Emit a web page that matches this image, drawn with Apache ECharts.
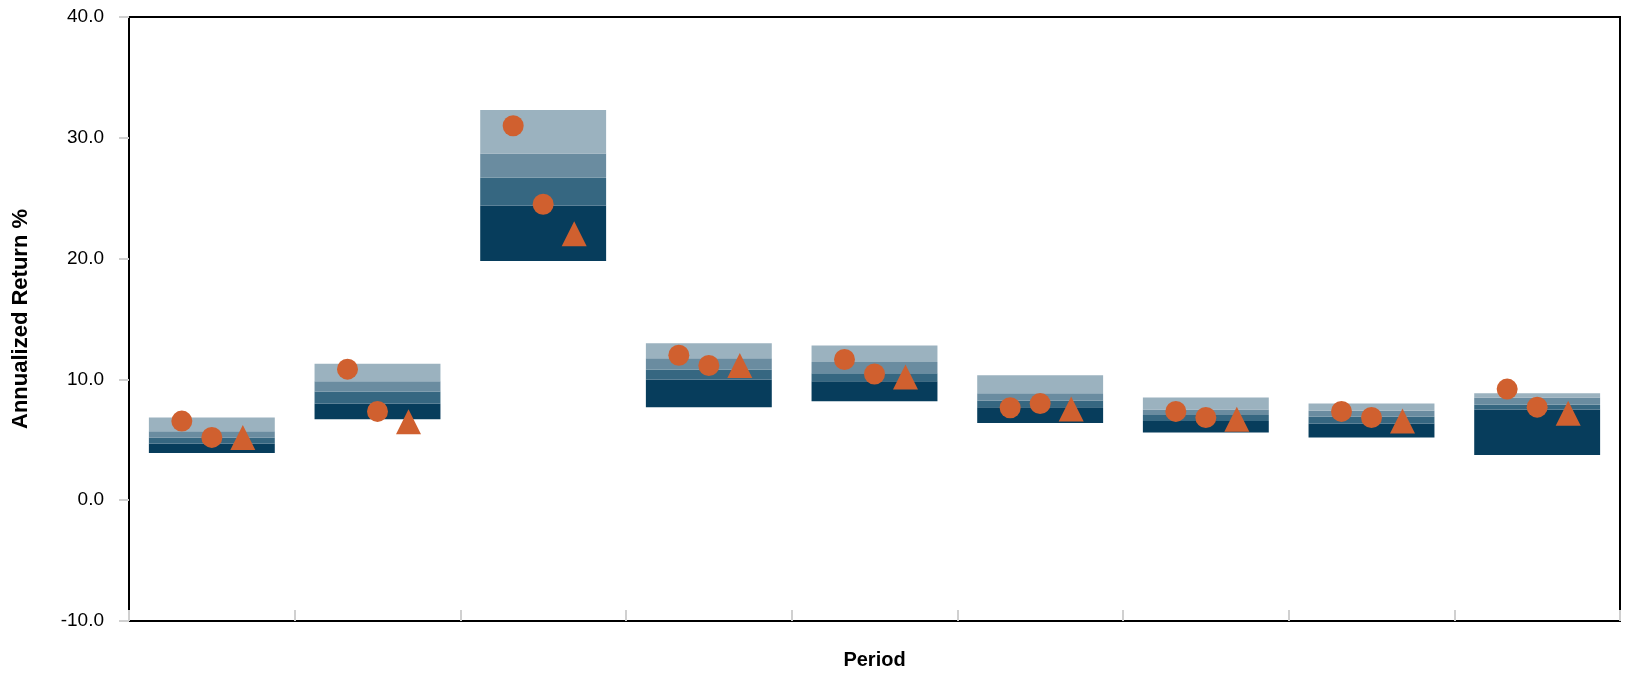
<!DOCTYPE html>
<html>
<head>
<meta charset="utf-8">
<script src="https://cdn.jsdelivr.net/npm/echarts@6/dist/echarts.min.js"></script>
<style>
html,body{margin:0;padding:0;background:#fff;}
#chart{width:1627px;height:675px;}
</style>
</head>
<body>
<div id="chart"></div>
<script>
// Period categories (labels are not displayed in the original)
var categories = ['P1','P2','P3','P4','P5','P6','P7','P8','P9'];
// Range band boundaries (bottom -> top)
var bandBottom = [3.9, 6.7, 19.8, 7.7, 8.2, 6.4, 5.6, 5.2, 3.75];
var band1Top   = [4.7, 8.0, 24.4, 10.0, 9.85, 7.7, 6.55, 6.35, 7.5];
var band2Top   = [5.2, 9.0, 26.7, 10.8, 10.5, 8.25, 7.05, 6.9, 7.9];
var band3Top   = [5.7, 9.85, 28.7, 11.75, 11.45, 8.85, 7.5, 7.4, 8.5];
var bandTop    = [6.85, 11.3, 32.3, 13.0, 12.8, 10.35, 8.5, 8.0, 8.85];
// Marker series
var circleA  = [6.55, 10.85, 31.0, 12.0, 11.65, 7.65, 7.35, 7.35, 9.2];
var circleB  = [5.2, 7.35, 24.5, 11.15, 10.45, 8.0, 6.85, 6.85, 7.7];
var triangle = [5.2, 6.5, 22.05, 11.15, 10.2, 7.55, 6.7, 6.55, 7.2];
// Y axis ticks
var yMin = -10, yMax = 40, yStep = 10;

function diff(a, b) { return a.map(function (v, i) { return +(v - b[i]).toFixed(3); }); }

var bandColors = ['#073d5c', '#366781', '#6a8ca0', '#9bb2bf'];
var bands = [diff(band1Top, bandBottom), diff(band2Top, band1Top), diff(band3Top, band2Top), diff(bandTop, band3Top)];

var series = [{
  type: 'bar', stack: 'r', data: bandBottom, barWidth: '76%',
  itemStyle: { color: 'transparent' }, silent: true
}];
bands.forEach(function (d, i) {
  series.push({ type: 'bar', stack: 'r', data: d, barWidth: '76%', itemStyle: { color: bandColors[i] } });
});
series.push({ type: 'scatter', data: circleA, symbol: 'circle', symbolSize: 21, symbolOffset: [-30, 0], itemStyle: { color: '#d0602f', opacity: 1 }, z: 5 });
series.push({ type: 'scatter', data: circleB, symbol: 'circle', symbolSize: 21, symbolOffset: [0, 0], itemStyle: { color: '#d0602f', opacity: 1 }, z: 5 });
series.push({ type: 'scatter', data: triangle, symbol: 'triangle', symbolSize: [25, 25], symbolOffset: [31, 0], itemStyle: { color: '#d0602f', opacity: 1 }, z: 5 });

var chart = echarts.init(document.getElementById('chart'));
chart.setOption({
  animation: false,
  textStyle: { fontFamily: 'Liberation Sans, Arial, sans-serif' },
  grid: { left: 129, right: 7, top: 17, bottom: 51, show: true, borderColor: '#000', borderWidth: 2, backgroundColor: '#fff' },
  xAxis: {
    type: 'category', data: categories,
    name: 'Period', nameLocation: 'middle', nameGap: 29,
    nameTextStyle: { fontSize: 20, fontWeight: 'bold', color: '#000' },
    axisLine: { onZero: false, lineStyle: { color: '#000', width: 2 } },
    axisTick: { show: true, inside: true, length: 11, lineStyle: { color: '#d0d0d0', width: 2 } },
    axisLabel: { show: false },
    splitLine: { show: false }
  },
  yAxis: {
    type: 'value', min: yMin, max: yMax, interval: yStep,
    name: 'Annualized Return %', nameLocation: 'middle', nameGap: 97,
    nameTextStyle: { fontSize: 22, fontWeight: 'bold', color: '#000' },
    axisLine: { show: true, lineStyle: { color: '#000', width: 2 } },
    axisTick: { show: true, length: 10, lineStyle: { color: '#d0d0d0', width: 2 } },
    axisLabel: { margin: 25, fontSize: 19, color: '#000', formatter: function (v) { return v.toFixed(1); } },
    splitLine: { show: false }
  },
  series: series
});
</script>
</body>
</html>
